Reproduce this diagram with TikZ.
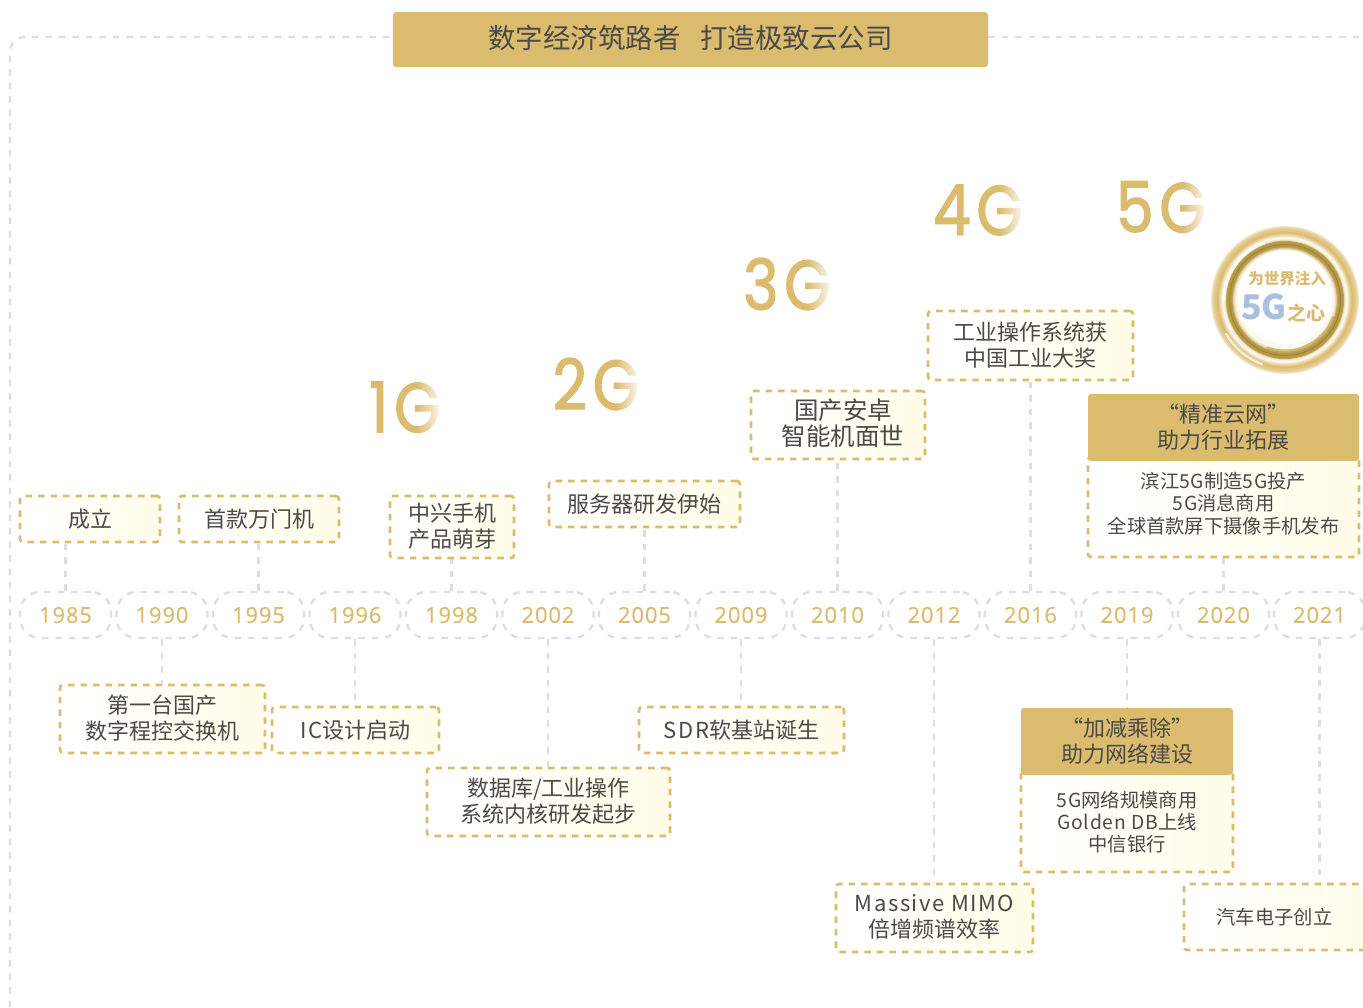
\documentclass[tikz,border=0pt]{standalone}
\usepackage{fontspec}
\setmainfont{Noto Sans CJK SC}
\newfontfamily\latinf[LetterSpace=7]{Noto Sans CJK SC}
\newfontfamily\latins[LetterSpace=4]{Noto Sans CJK SC}
\newfontfamily\bigfont[FakeBold=2,FakeStretch=0.85]{Poppins}
\newfontfamily\yearfont[LetterSpace=4,FakeBold=0.3]{Open Sans}
\usetikzlibrary{fadings}
\definecolor{gold}{HTML}{DBBB6E}
\definecolor{cream}{HTML}{FFFDE8}
\definecolor{ink}{HTML}{4A4A48}
\definecolor{rule}{HTML}{DEDEDE}
\definecolor{blue5g}{HTML}{A9C0DE}
\definecolor{olivegold}{HTML}{B59A3E}
\tikzset{
  x=1pt,y=-1pt,
  txt/.style={text=ink,font=\fontsize{22}{26}\selectfont,align=center,inner sep=0pt},
  eventbox/.style={txt,draw=gold,line width=2.6pt,dash pattern=on 6.5pt off 6pt,
    rounded corners=3pt,left color=white,right color=cream,text depth=3.5pt},
  onelinebox/.style={eventbox,text depth=1.5pt},
  smallbox/.style={eventbox,font=\fontsize{19.3}{22.3}\selectfont},
  headbox/.style={txt,fill=gold,rounded corners=3pt},
  yearbox/.style={draw=rule,line width=2.4pt,dash pattern=on 6.5pt off 7pt,rounded corners=20pt,
    minimum width=91pt,minimum height=46pt,inner sep=0pt,text=gold,
    font=\yearfont\fontsize{22}{24}\selectfont},
  guide/.style={draw=rule,line width=2.4pt,dash pattern=on 6.5pt off 7pt},
  genlabel/.style={text=gold,inner sep=0pt,font=\bigfont\fontsize{70}{70}\selectfont},
  genfade/.style={fill=white,path fading=genfadeleft},
  wh/.style 2 args={minimum width=#1pt,minimum height=#2pt},
}
\tikzfading[name=genfadeleft,left color=transparent!100,right color=transparent!0]
\begin{document}
\begin{tikzpicture}
\useasboundingbox[fill=white] (0,0) rectangle (1363,1007);
\clip (0,0) rectangle (1363,1007);

% title and frame
\node[headbox,wh={595}{55},font=\fontsize{27.5}{30}\selectfont,text depth=6pt] (title) at (690.5,39.5) {数字经济筑路者\hspace{20pt}打造极致云公司};
\coordinate (frameL) at (10,1007);
\coordinate (frameR) at (1363,37);
\draw[guide,rounded corners=15pt] (frameL) -- (10,37) -- (title.west |- frameR);
\draw[guide] (title.east |- frameR) -- (frameR);

% years
\foreach \yr/\cx in {1985/65.5,1990/162,1995/258.5,1996/355,1998/451.5,2002/548,2005/644.5,2009/741,2010/837.5,2012/934,2016/1030.5,2019/1127,2020/1223.5,2021/1319.5}
  \node[yearbox] (y\yr) at (\cx,615) {\yr};

% event boxes above the line
\node[onelinebox,wh={140}{46}] (b1985) at (90,519) {成立};
\node[onelinebox,wh={160}{46}] (b1995) at (259,519) {首款万门机};
\node[eventbox,wh={124}{62}] (b1998) at (452,527) {中兴手机\\产品萌芽};
\node[onelinebox,wh={191}{46}] (b2005) at (644.5,504) {服务器研发伊始};
\node[eventbox,wh={174}{68},font=\fontsize{24.5}{26}\selectfont,text depth=6pt] (b2010) at (838,425) {\hspace*{10pt}国产安卓\\\hspace*{10pt}智能机面世};
\node[eventbox,wh={205}{69}] (b2016) at (1030.5,345.5) {工业操作系统获\\中国工业大奖};
\node[smallbox,wh={271}{100},text depth=8.5pt] (b2020) at (1223.5,507) {滨江{\latins 5G}制造{\latins 5G}投产\\{\latins 5G}消息商用\\全球首款屏下摄像手机发布};
\node[headbox,wh={271}{67}] (h2020) at (1223.5,427.5) {“精准云网”\\助力行业拓展};

% event boxes below the line
\node[eventbox,wh={205}{68}] (b1990) at (162.5,719) {第一台国产\\数字程控交换机};
\node[onelinebox,wh={167}{46}] (b1996) at (355.5,730) {{\latinf IC}设计启动};
\node[eventbox,wh={243}{68}] (b2002) at (548.5,802) {数据库{\latinf /}工业操作\\系统内核研发起步};
\node[onelinebox,wh={205}{46}] (b2009) at (741.5,730) {{\latinf SDR}软基站诞生};
\node[eventbox,wh={197}{68}] (b2012) at (934.5,918) {{\latinf Massive MIMO}\\倍增频谱效率};
\node[smallbox,wh={212}{104},text height=66pt,text depth=2.5pt] (b2019) at (1127,820) {{\latins 5G}网络规模商用\\{\latins Golden DB}上线\\中信银行};
\node[headbox,wh={212}{67}] (h2019) at (1127,741.5) {“加减乘除”\\助力网络建设};
\node[smallbox,wh={190}{66},text depth=1pt] (b2021) at (1279,917) {\hspace*{-9pt}汽车电子创立};

% connectors
\foreach \yr in {1985,1995,1998,2005,2010,2016,2020}
  \draw[guide] (y\yr.north) -- (y\yr.north |- b\yr.south);
\foreach \yr in {1990,1996,2002,2009,2012,2021}
  \draw[guide] (y\yr.south) -- (y\yr.south |- b\yr.north);
\draw[guide] (y2019.south) -- (y2019.south |- h2019.north);

% generation labels
\foreach \nm/\tx/\cx/\cy in {g1/1\hspace{6pt}G/405/407,g2/2\hspace{6pt}G/596/384,g3/3\hspace{6pt}G/787/284,g4/4\hspace{6pt}G/978/210,g5/5\hspace{6pt}G/1161/207}{
  \node[genlabel] (\nm) at (\cx,\cy) {\tx};
  \fill[genfade] ([xshift=-24pt,yshift=-3pt]\nm.south east) rectangle ([xshift=2pt,yshift=3pt]\nm.north east);
}

% badge: concentric rings, outside in
\coordinate (badge) at (1285,300);
\foreach \r/\c in {74/gold!35!white,73/gold!55!white,72/gold!70!white,71/gold!80!white,70/gold!85!white,69/gold!90!white,
  68/gold,67/gold!90!white,66/gold!75!white,65/gold!55!white,64/gold!35!white,63/gold!15!white,62/gold!10!white,
  61/gold!25!white,60/gold!55!white,59/gold!85!black,58/olivegold,57/olivegold,56/olivegold!85!black,55/olivegold,
  54/gold!80!black,53/gold!90!black,52/gold!75!white,51/gold!45!white,50/gold!25!white,49/gold!10!white}
  \fill[\c] (badge) circle[radius=\r];
\coordinate (badgeHole) at (1285,297);
\fill[white] (badgeHole) circle[radius=47];
\draw[white,line width=3pt,opacity=.8,line cap=round] (badge) ++(180:61) arc[start angle=180,end angle=250,radius=61];
\draw[white,line width=2.5pt,opacity=.7,line cap=round] (badge) ++(110:68) arc[start angle=110,end angle=150,radius=68];
\draw[olivegold,line width=3pt,opacity=.55,line cap=round] (badge) ++(20:51) arc[start angle=20,end angle=110,radius=51];
\node[text=gold,inner sep=0pt,font=\bfseries\fontsize{15.5}{16}\selectfont] (badgeA) at (1287,279) {为世界注入};
\node[text=blue5g,inner sep=0pt,font=\bfseries\fontsize{34}{34}\selectfont] (badgeB) at (1264,307) {5G};
\node[text=gold,inner sep=0pt,font=\bfseries\fontsize{19}{20}\selectfont] (badgeC) at (1306,313) {之心};
\end{tikzpicture}
\end{document}
